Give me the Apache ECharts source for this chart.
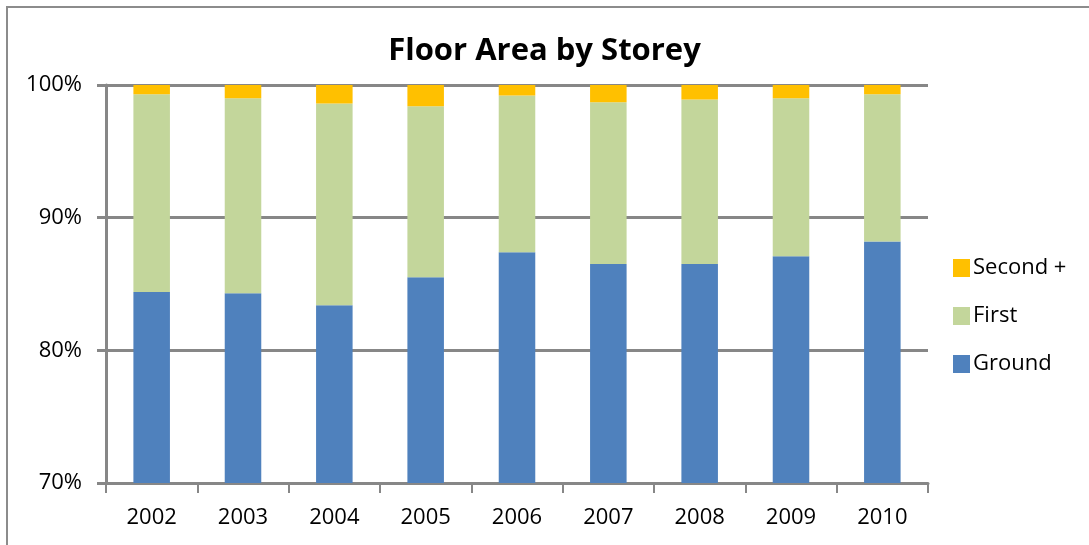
<!DOCTYPE html>
<html>
<head>
<meta charset="utf-8">
<script src="https://cdn.jsdelivr.net/npm/echarts@6/dist/echarts.min.js"></script>
<style>
  html, body { margin: 0; padding: 0; background: #fff; overflow: hidden; }
  #main { width: 1089px; height: 545px; }
</style>
</head>
<body>
<div id="main"></div>
<script>
// 年份与各层面积占比（%）
const years = ['2002', '2003', '2004', '2005', '2006', '2007', '2008', '2009', '2010'];
const ground = [84.4, 84.3, 83.4, 85.5, 87.4, 86.5, 86.5, 87.1, 88.2];
const first = [14.9, 14.7, 15.2, 12.9, 11.8, 12.2, 12.4, 11.9, 11.1];
const second = [0.7, 1.0, 1.4, 1.6, 0.8, 1.3, 1.1, 1.0, 0.7];
const yTicks = [70, 80, 90, 100];

const gray = '#878787';
const font = '"Open Sans", "Noto Sans", sans-serif';

let myEchart = echarts.init(document.getElementById('main'));
let option = {
  animation: false,
  textStyle: { fontFamily: font },
  title: {
    text: 'Floor Area by Storey',
    left: 'center',
    top: 36,
    padding: 0,
    textStyle: { fontFamily: font, fontSize: 31, fontWeight: 'bold', color: '#000' }
  },
  graphic: [
    {
      type: 'rect',
      shape: { x: 7, y: 7, width: 1200, height: 700 },
      style: { fill: null, stroke: '#8c8c8c', lineWidth: 2 },
      silent: true
    }
  ],
  legend: {
    orient: 'vertical',
    left: 948,
    top: 252,
    itemWidth: 17,
    itemHeight: 18,
    itemGap: 26,
    icon: 'rect',
    data: ['Second +', 'First', 'Ground'],
    textStyle: { fontFamily: font, fontSize: 22, color: '#000', padding: [0, 0, 0, -2] }
  },
  grid: {
    left: 106,
    right: 161,
    top: 85,
    bottom: 62
  },
  xAxis: {
    type: 'category',
    data: years,
    boundaryGap: true,
    axisLine: { lineStyle: { color: gray, width: 3 } },
    axisTick: { show: true, length: 10, lineStyle: { color: gray, width: 2 } },
    axisLabel: { margin: 24, fontFamily: font, fontSize: 22, color: '#000' }
  },
  yAxis: {
    type: 'value',
    min: yTicks[0],
    max: yTicks[yTicks.length - 1],
    interval: 10,
    axisLine: { show: true, lineStyle: { color: gray, width: 3 } },
    axisTick: { show: true, length: 9, lineStyle: { color: gray, width: 3 } },
    splitLine: { show: true, lineStyle: { color: gray, width: 3 } },
    axisLabel: {
      margin: 24,
      fontFamily: font,
      fontSize: 22,
      color: '#000',
      formatter: '{value}%'
    }
  },
  series: [
    {
      name: 'Ground',
      type: 'bar',
      stack: 'total',
      barWidth: '40%',
      clip: true,
      itemStyle: { color: '#4F81BD' },
      data: ground
    },
    {
      name: 'First',
      type: 'bar',
      stack: 'total',
      barWidth: '40%',
      clip: true,
      itemStyle: { color: '#C3D69B' },
      data: first
    },
    {
      name: 'Second +',
      type: 'bar',
      stack: 'total',
      barWidth: '40%',
      clip: true,
      itemStyle: { color: '#FFC000' },
      data: second
    }
  ]
};
myEchart.setOption(option);
</script>
</body>
</html>
